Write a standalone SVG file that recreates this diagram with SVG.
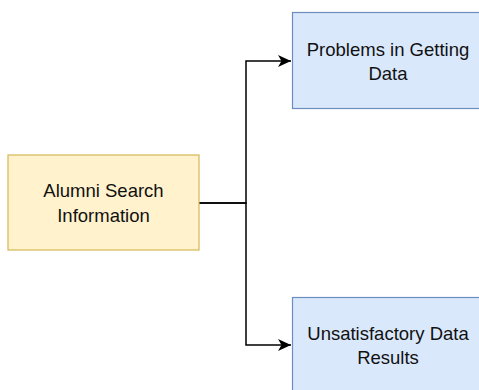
<svg xmlns="http://www.w3.org/2000/svg" width="479" height="390" viewBox="0 0 479 390">
<style>
.y{fill:#fff2cc;stroke:#d6b656;stroke-width:1.2}
.b{fill:#dae8fc;stroke:#6c8ebf;stroke-width:1.2}
.t{font-family:"Liberation Sans",Arial,sans-serif;font-size:18.5px;fill:#111;text-anchor:middle}
.e{fill:none;stroke:#000;stroke-width:1.5}
</style>
<defs>
<marker id="a" markerWidth="14" markerHeight="12" refX="13" refY="6" orient="auto" markerUnits="userSpaceOnUse">
<path d="M0,0 L13,6 L0,12 L3.5,6 Z" fill="#000"/>
</marker>
</defs>
<rect width="479" height="390" fill="#fff"/>
<g id="connectors">
<path class="e" d="M199,203 H246 V61 H291" marker-end="url(#a)"/>
<path class="e" d="M199,203 H246 V345 H291" marker-end="url(#a)"/>
</g>
<g id="alumni">
<rect class="y" x="8" y="155" width="191" height="95"/>
<text class="t" x="103.5" y="197">Alumni Search</text>
<text class="t" x="103.5" y="222">Information</text>
</g>
<g id="problems">
<rect class="b" x="292.5" y="12.5" width="191" height="96"/>
<text class="t" x="388" y="56">Problems in Getting</text>
<text class="t" x="388" y="80">Data</text>
</g>
<g id="unsatisfactory">
<rect class="b" x="292.5" y="297.5" width="191" height="96"/>
<text class="t" x="388" y="340">Unsatisfactory Data</text>
<text class="t" x="388" y="364">Results</text>
</g>
</svg>
